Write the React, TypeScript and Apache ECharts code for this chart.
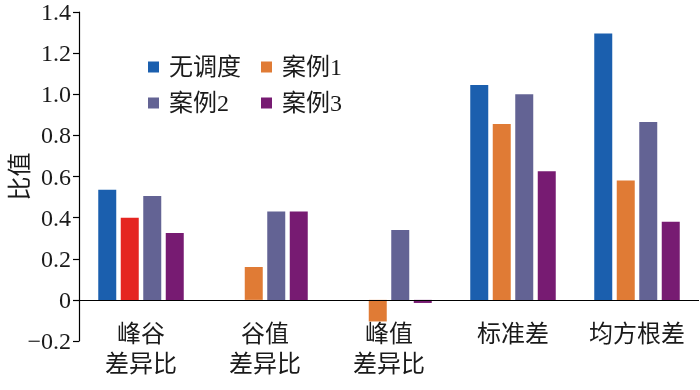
import React, { useEffect, useRef } from "react";
import * as echarts from "echarts";

const categories = ["峰谷\n差异比", "谷值\n差异比", "峰值\n差异比", "标准差", "均方根差"];
const seriesNames = ["无调度", "案例1", "案例2", "案例3"];
const noDispatch = [0.535, 0, 0, 1.045, 1.295];
const case1 = [0.4, 0.16, -0.105, 0.855, 0.58];
const case2 = [0.505, 0.43, 0.34, 1.0, 0.865];
const case3 = [0.325, 0.43, -0.015, 0.625, 0.38];
const colors = ["#1b5fae", "#e07b35", "#636394", "#771b72"];
const highlightColor = "#e52521";

const FONT = "'Liberation Serif', 'Noto Sans CJK SC', serif";

export default function App() {
  const ref = useRef<HTMLDivElement>(null);
  useEffect(() => {
    if (!ref.current) return;
    const chart = echarts.init(ref.current, undefined, { renderer: "svg" });
    const valuesList = [noDispatch, case1, case2, case3];
    const series = seriesNames.map((name, i) => ({
      name,
      type: "bar",
      barWidth: 18,
      barGap: "25%",
      itemStyle: { color: colors[i] },
      data: valuesList[i].map((v, j) =>
        i === 1 && j === 0 ? { value: v, itemStyle: { color: highlightColor } } : v
      ),
      ...(i === 0
        ? {
            markLine: {
              silent: true,
              symbol: "none",
              label: { show: false },
              lineStyle: { color: "#000", width: 1.2, type: "solid" },
              data: [{ yAxis: 0 }],
            },
          }
        : {}),
    }));
    chart.setOption({
      animation: false,
      textStyle: { fontFamily: FONT },
      grid: {
        left: 79,
        right: 1,
        top: 12,
        bottom: 49,
        containLabel: false,
        outerBoundsMode: "none",
      },
      legend: {
        left: 143,
        top: 50,
        width: 250,
        itemWidth: 11,
        itemHeight: 11,
        itemGap: 12,
        icon: "rect",
        data: seriesNames,
        textStyle: {
          fontFamily: FONT,
          fontSize: 24,
          color: "#1a1a1a",
          width: 80,
          lineHeight: 16,
          padding: [0, 0, 0, 5],
        },
      },
      xAxis: {
        type: "category",
        data: categories,
        axisLine: { show: false },
        axisTick: { show: false },
        axisLabel: {
          interval: 0,
          hideOverlap: false,
          margin: -22,
          fontSize: 24,
          lineHeight: 30,
          color: "#1a1a1a",
          fontFamily: FONT,
          verticalAlign: "top",
        },
      },
      yAxis: {
        type: "value",
        min: -0.2,
        max: 1.4,
        interval: 0.2,
        name: "比值",
        nameLocation: "middle",
        nameRotate: 90,
        nameGap: 47,
        nameMoveOverlap: false,
        nameTextStyle: { fontSize: 24, color: "#1a1a1a", fontFamily: FONT },
        axisLine: { show: true, lineStyle: { color: "#000", width: 1.2 } },
        axisTick: { show: true, length: 6, lineStyle: { color: "#000", width: 1.2 } },
        splitLine: { show: false },
        axisLabel: {
          margin: 8,
          fontSize: 24,
          color: "#1a1a1a",
          fontFamily: FONT,
          formatter: (v: number) => {
            if (Math.abs(v) < 1e-9) return "0";
            return v < 0 ? "\u2212" + Math.abs(v).toFixed(1) : v.toFixed(1);
          },
        },
      },
      series,
    });
    return () => chart.dispose();
  }, []);
  return (
    <div
      ref={ref}
      style={{ position: "fixed", left: 0, top: 0, width: 700, height: 390 }}
    />
  );
}
